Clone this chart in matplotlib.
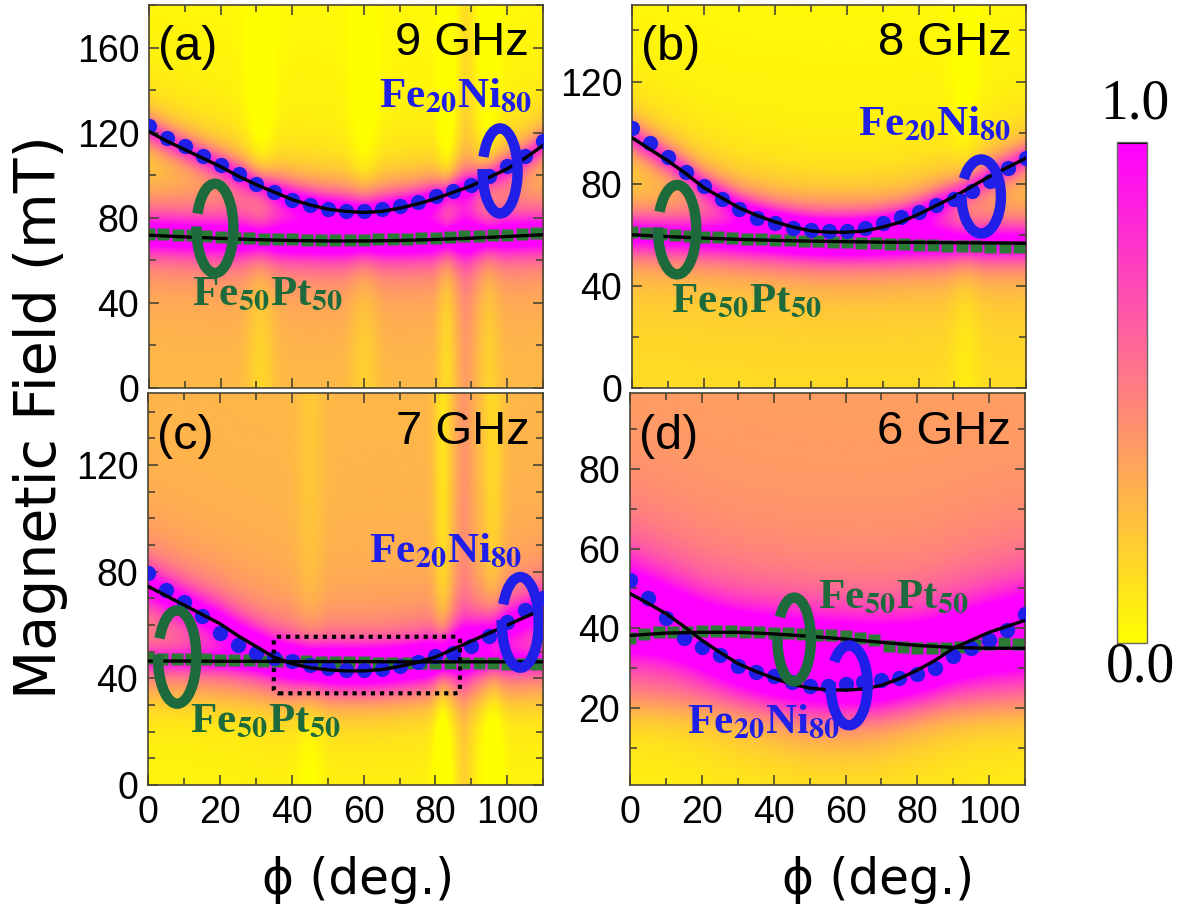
import numpy as np
import matplotlib.pyplot as plt
from matplotlib.patches import Arc, FancyBboxPatch
from matplotlib.ticker import MultipleLocator

plt.rcParams['mathtext.fontset'] = 'stix'

# angles (deg.)
phi_dot = [0, 5, 10, 15, 20, 25, 30, 35, 40, 45, 50, 55, 60, 65, 70, 75, 80, 85, 90, 95, 100, 105, 110]
phi_sq = [0, 4, 8, 12, 16, 20, 24, 28, 32, 36, 40, 44, 48, 52, 56, 60, 64, 68, 72, 76, 80, 84, 88, 92, 96, 100, 104, 108]
phi_fit10 = [0, 10, 20, 30, 40, 50, 60, 70, 80, 90, 100, 110]

# (a) 9 GHz
fn_9 = [123, 117.5, 113.5, 109, 105, 100.5, 96, 92, 88.5, 86, 84, 83, 83, 84, 85.5, 87.5, 90, 92.5, 95.5, 99.5, 104.5, 109, 116]
fn_9_fit = [120.5, 116, 112, 108, 104, 99.5, 95.5, 92, 88.5, 86, 84, 83, 82.5, 83, 84.5, 86.5, 89, 92, 95, 99, 103, 108, 114]
fp_9 = [72.5, 72.3, 72, 71.7, 71.4, 71, 70.7, 70.4, 70.2, 70, 69.8, 69.7, 69.6, 69.6, 69.6, 69.7, 69.8, 70, 70.2, 70.4, 70.6, 70.9, 71.2, 71.5, 71.8, 72.1, 72.4, 72.7]
fp_9_fit = [71.8, 71, 70.3, 69.7, 69.3, 69.1, 69.1, 69.3, 69.8, 70.4, 71.2, 72]

# (b) 8 GHz
fn_8 = [102, 96, 90.5, 84.5, 79, 74, 70, 66.5, 64.5, 62.5, 62, 61.5, 61.5, 62.5, 64.5, 67, 69, 71.5, 74, 77, 81, 86, 90]
fn_8_fit = [98, 93.5, 89, 84, 78.5, 74.5, 70.5, 67.5, 65, 63, 61.5, 61, 61, 61.5, 63, 65, 68, 71.5, 75, 79, 83, 86.5, 90]
fp_8 = [61, 60.6, 60.2, 59.8, 59.5, 59.2, 59, 58.7, 58.4, 58.2, 58, 57.8, 57.6, 57.4, 57.2, 57, 56.8, 56.6, 56.4, 56.2, 56, 55.8, 55.7, 55.6, 55.5, 55.4, 55.3, 55.2]
fp_8_fit = [60, 59.3, 58.7, 58.2, 57.8, 57.5, 57.3, 57.1, 57, 56.9, 56.8, 56.7]

# (c) 7 GHz
fn_7 = [79.5, 73, 68.5, 63.5, 57, 52.5, 49.5, 47.5, 46.5, 45, 44, 43.2, 43, 43.5, 44.5, 46, 48.5, 49.5, 52, 56, 61, 65.5, 70]
fn_7_fit = [74.5, 71, 67.5, 64, 60.5, 56, 52, 48, 45.5, 44, 43.2, 42.8, 42.8, 43.3, 44.5, 46, 48, 51, 54, 57, 60, 63, 66]
fp_7 = [47.5, 47.4, 47.3, 47.2, 47.1, 47, 46.9, 46.8, 46.7, 46.6, 46.5, 46.4, 46.3, 46.2, 46.1, 46, 45.9, 45.9, 45.8, 45.8, 45.7, 45.7, 45.6, 45.6, 45.6, 45.5, 45.5, 45.5]
fp_7_fit = [46.5, 46.5, 46.4, 46.4, 46.3, 46.3, 46.3, 46.2, 46.2, 46.2, 46.2, 46.2]

# (d) 6 GHz
fn_6 = [52, 47.5, 42.5, 37.5, 35.3, 33.3, 30.5, 29, 28, 26.5, 25.5, 25.5, 26, 26.5, 27, 27.5, 28.5, 30, 33, 35, 37, 39.5, 43.5]
fn_6_fit = [48.7, 46.3, 43.7, 40.5, 37, 34, 31.2, 29.2, 27.5, 26, 25, 24.6, 24.5, 24.8, 25.7, 27.4, 29.5, 32, 35, 37, 39, 40.5, 42]
fp_6 = [37.5, 38.5, 39, 39, 39.2, 39.3, 39.3, 39.3, 39.2, 39, 38.9, 38.8, 38.6, 38.4, 38.2, 38, 37.5, 37, 35.5, 35.2, 35, 35, 35, 35.3, 35.8, 36, 36.2, 36]
fp_6_fit = [38.2, 38.8, 39, 39, 38.6, 38, 37.3, 36.5, 35.7, 35.2, 35, 35]

BLUE = '#1f1fe8'
GREEN = '#2b7a35'
GREEN_DK = '#1d6a3c'
SPINE = '#4a4535'


def field_map(ax, fn_fit, fp_fit, ylim, bg, stripes):
    # absorption map built around the fitted resonance fields
    lo, hi, h0, s, a1, w1, a2, w2 = bg
    x = np.linspace(0, 110, 221)
    y = np.linspace(ylim[0], ylim[1], 300)
    X, Y = np.meshgrid(x, y)
    r1 = np.interp(x, phi_dot, fn_fit)[None, :]
    r2 = np.interp(x, phi_fit10, fp_fit)[None, :]
    base = lo + (hi - lo) / (1 + np.exp(-(Y - h0) / s))
    z = base + a1 / (1 + ((Y - r1) / w1) ** 2) + a2 / (1 + ((Y - r2) / w2) ** 2)
    for c, w, d in stripes:
        z = z + d * np.exp(-((X - c) / w) ** 2)
    z = np.clip(z, 0, 1)
    ax.imshow(z, origin='lower', extent=[0, 110, ylim[0], ylim[1]], aspect='auto',
              cmap='spring_r', vmin=0, vmax=1, interpolation='bilinear', zorder=0)


def loop(ax, cx, cy, w, h, color):
    ax.add_patch(Arc((cx, cy), w, h, theta1=170, theta2=485, color=color, lw=7.5, zorder=6))


def panel(ax, fn, fn_fit, fp, fp_fit, ylim, major, minor, bg, stripes, show_x):
    field_map(ax, fn_fit, fp_fit, ylim, bg, stripes)
    ax.plot(phi_sq, fp, 's', color=GREEN, ms=8.5, mec='none', zorder=2)
    ax.plot(phi_dot, fn, 'o', color=BLUE, ms=11, mec='none', zorder=3)
    ax.plot(phi_fit10, fp_fit, '-', color='black', lw=2.4, zorder=4)
    ax.plot(phi_dot, fn_fit, '-', color='black', lw=2.4, zorder=4)
    ax.set_xlim(0, 110)
    ax.set_ylim(*ylim)
    ax.xaxis.set_major_locator(MultipleLocator(20))
    ax.xaxis.set_minor_locator(MultipleLocator(10))
    ax.yaxis.set_major_locator(MultipleLocator(major))
    ax.yaxis.set_minor_locator(MultipleLocator(minor))
    ax.tick_params(which='both', direction='in', top=True, right=True, color=SPINE,
                   labelsize=27, pad=7, labelfontfamily='Liberation Sans')
    ax.tick_params(which='major', length=7, width=1.2)
    ax.tick_params(which='minor', length=5, width=1.2)
    if not show_x:
        ax.tick_params(labelbottom=False)
    for sp in ax.spines.values():
        sp.set_color(SPINE)
        sp.set_linewidth(1.2)


def label(ax, tag, freq, fn_xy, fp_xy, fn_ha='right', fp_ha='left'):
    ax.text(0.022, 0.89, tag, transform=ax.transAxes, fontsize=35, va='center',
            family='Liberation Sans', zorder=7)
    ax.text(0.965, 0.90, freq, transform=ax.transAxes, fontsize=34, va='center', ha='right',
            family='Liberation Sans', zorder=7)
    ax.text(fn_xy[0], fn_xy[1], r'Fe$_{\mathbf{20}}$Ni$_{\mathbf{80}}$', transform=ax.transAxes,
            fontsize=31, color=BLUE, family='Liberation Serif', weight='bold', ha=fn_ha,
            va='baseline', zorder=7)
    ax.text(fp_xy[0], fp_xy[1], r'Fe$_{\mathbf{50}}$Pt$_{\mathbf{50}}$', transform=ax.transAxes,
            fontsize=31, color=GREEN_DK, family='Liberation Serif', weight='bold', ha=fp_ha,
            va='baseline', zorder=7)


fig = plt.figure(figsize=(11.94, 9.17), dpi=100)
ax_a = fig.add_axes([0.1248, 0.5769, 0.330, 0.4177])
ax_b = fig.add_axes([0.5293, 0.5769, 0.330, 0.4177])
ax_c = fig.add_axes([0.1240, 0.1439, 0.331, 0.4275])
ax_d = fig.add_axes([0.5276, 0.1439, 0.331, 0.4275])

panel(ax_a, fn_9, fn_9_fit, fp_9, fp_9_fit, (0, 180), 40, 20,
      (0.26, 0.02, 95, 6, 0.75, 7, 0.95, 9),
      [(31, 4, -0.12), (60, 4, -0.1), (83, 2.5, -0.14), (88.5, 2.5, 0.1), (95, 3, -0.1)], False)
panel(ax_b, fn_8, fn_8_fit, fp_8, fp_8_fit, (0, 150), 40, 20,
      (0.12, 0.02, 70, 5, 0.75, 6, 0.95, 8),
      [(93, 4, -0.07)], False)
panel(ax_c, fn_7, fn_7_fit, fp_7, fp_7_fit, (0, 147), 40, 10,
      (0.03, 0.28, 32, 4, 0.8, 8, 0.6, 5),
      [(45, 4, -0.07), (82, 2.5, -0.18), (88, 2.5, 0.12), (96, 3, -0.14)], True)
panel(ax_d, fn_6, fn_6_fit, fp_6, fp_6_fit, (0.7, 99), 20, 10,
      (0.02, 0.36, 20, 3, 0.75, 9, 0.6, 7),
      [], True)

label(ax_a, '(a)', '9 GHz', (0.972, 0.734), (0.109, 0.217))
label(ax_b, '(b)', '8 GHz', (0.962, 0.660), (0.100, 0.198))
label(ax_c, '(c)', '7 GHz', (0.947, 0.569), (0.106, 0.135))
label(ax_d, '(d)', '6 GHz', (0.144, 0.133), (0.476, 0.452), fn_ha='left')

loop(ax_a, 18.4, 75, 10.3, 42, GREEN_DK)
loop(ax_a, 98, 102, 9.8, 40, BLUE)
loop(ax_b, 12.6, 62, 10.7, 35, GREEN_DK)
loop(ax_b, 97.5, 75, 11, 29, BLUE)
loop(ax_c, 8.1, 48, 10.7, 35, GREEN_DK)
loop(ax_c, 103.6, 61, 10.3, 34, BLUE)
loop(ax_d, 45.7, 37.2, 9.3, 21, GREEN_DK)
loop(ax_d, 61, 25.7, 10.3, 20, BLUE)

ax_c.add_patch(FancyBboxPatch((35, 34.4), 51.8, 21.2, boxstyle='round,pad=0,rounding_size=1.5',
                              fill=False, ls=(0, (1, 1.2)), lw=3, ec='black', zorder=5))

fig.text(0.034, 0.545, 'Magnetic Field (mT)', rotation=90, fontsize=41, family='DejaVu Sans',
         ha='center', va='center')
fig.text(0.300, 0.040, '\u03d5 (deg.)', fontsize=35, family='DejaVu Sans', ha='center', va='center')
fig.text(0.735, 0.040, '\u03d5 (deg.)', fontsize=35, family='DejaVu Sans', ha='center', va='center')

cax = fig.add_axes([0.9355, 0.2988, 0.0251, 0.5463])
cb = fig.colorbar(plt.cm.ScalarMappable(cmap='spring_r'), cax=cax)
cb.set_ticks([])
cb.outline.set_edgecolor('#666666')
cb.outline.set_linewidth(1)
cax.axhline(1, color='black', lw=3)
fig.text(0.950, 0.886, '1.0', fontsize=40, family='Liberation Serif', ha='center', va='center')
fig.text(0.955, 0.272, '0.0', fontsize=40, family='Liberation Serif', ha='center', va='center')

fig.savefig('out.png', dpi=100)
